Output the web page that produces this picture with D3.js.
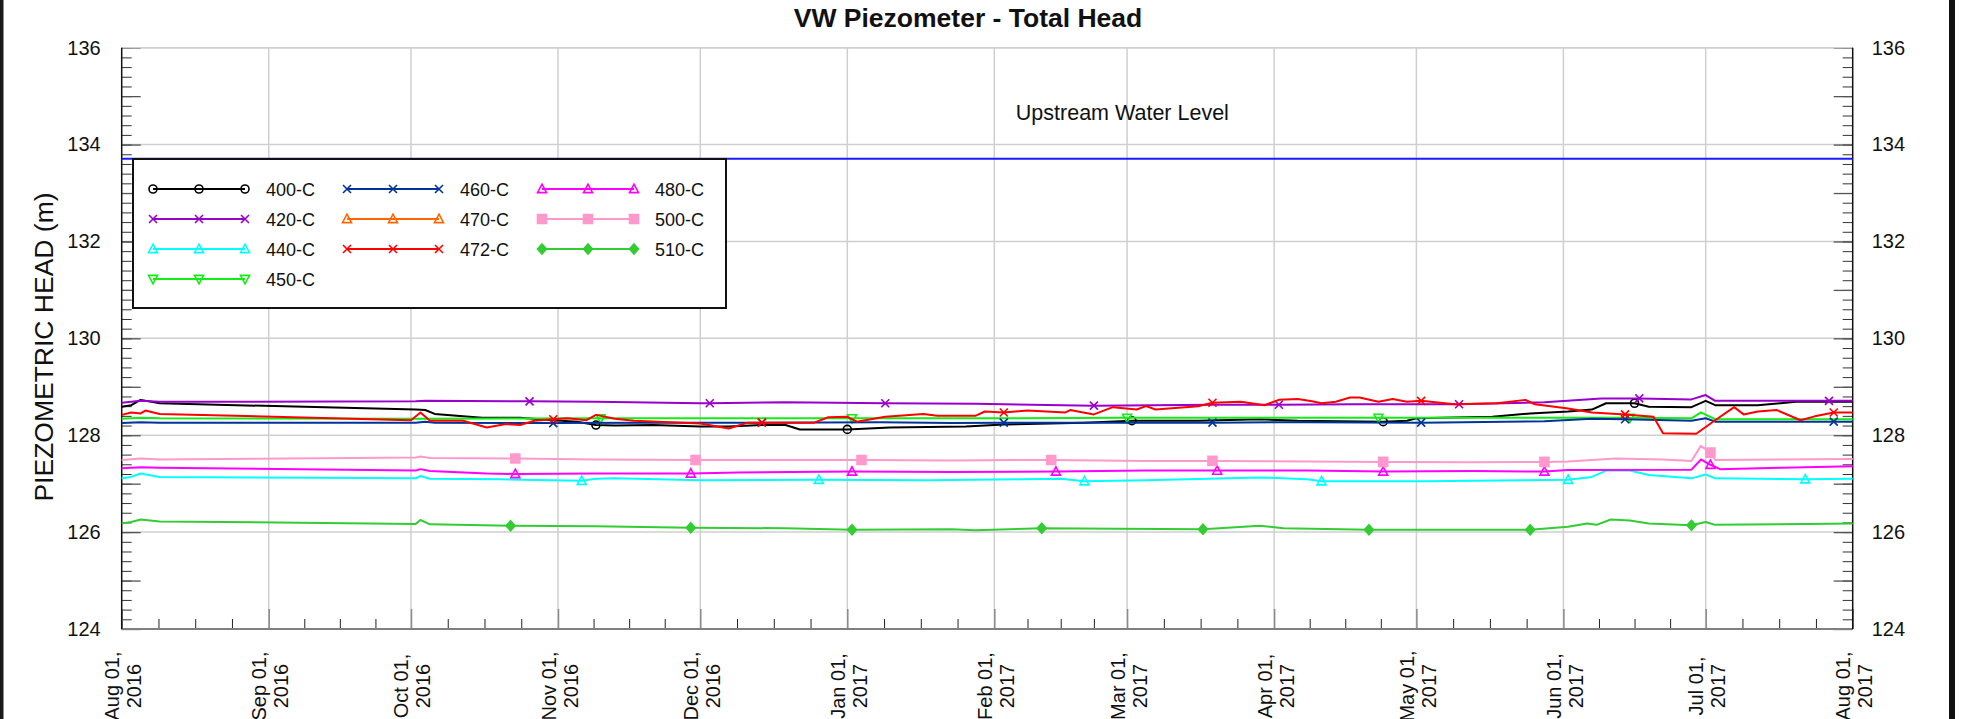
<!DOCTYPE html>
<html>
<head>
<meta charset="utf-8">
<title>VW Piezometer - Total Head</title>
<script src="https://cdn.jsdelivr.net/npm/d3@7/dist/d3.min.js"></script>
<style>
  html, body { margin: 0; padding: 0; background: #fff; }
  svg { display: block; font-family: "Liberation Sans", Arial, Helvetica, sans-serif; }
</style>
</head>
<body>
<svg id="chart" width="1964" height="719"></svg>
<script>
// ---------------- readings: [date, total head (m)] ----------------
const s400C = [
  ["2016-08-01",128.59],["2016-08-03",128.62],["2016-08-05",128.73],["2016-08-09",128.66],
  ["2016-10-02",128.53],["2016-10-04",128.52],["2016-10-06",128.44],["2016-10-16",128.36],
  ["2016-10-24",128.36],["2016-10-31",128.31],["2016-11-05",128.28],["2016-11-09",128.21],
  ["2016-11-13",128.20],["2016-11-21",128.21],["2016-12-01",128.18],["2016-12-07",128.18],
  ["2016-12-14",128.21],["2016-12-19",128.21],["2016-12-22",128.12],["2017-01-01",128.12],
  ["2017-01-10",128.16],["2017-01-26",128.18],["2017-02-03",128.22],["2017-02-20",128.26],
  ["2017-03-02",128.30],["2017-03-16",128.30],["2017-03-29",128.33],["2017-04-06",128.30],
  ["2017-04-24",128.28],["2017-04-29",128.30],["2017-05-01",128.35],["2017-05-17",128.38],
  ["2017-05-25",128.45],["2017-06-02",128.49],["2017-06-07",128.53],["2017-06-10",128.66],
  ["2017-06-16",128.66],["2017-06-19",128.59],["2017-06-28",128.58],["2017-07-01",128.71],
  ["2017-07-03",128.62],["2017-07-12",128.62],["2017-07-20",128.69],["2017-08-01",128.69]
];
const s420C = [
  ["2016-08-01",128.67],["2016-08-05",128.71],["2016-08-09",128.69],["2016-10-02",128.70],
  ["2016-10-04",128.71],["2016-10-26",128.70],["2016-11-09",128.69],["2016-12-01",128.66],
  ["2016-12-03",128.66],["2016-12-19",128.68],["2017-01-09",128.66],["2017-01-28",128.65],
  ["2017-02-22",128.61],["2017-03-19",128.63],["2017-04-02",128.63],["2017-04-18",128.64],
  ["2017-05-10",128.64],["2017-05-28",128.68],["2017-06-09",128.76],["2017-06-17",128.76],
  ["2017-06-28",128.74],["2017-07-01",128.83],["2017-07-03",128.71],["2017-07-27",128.71],
  ["2017-08-01",128.71]
];
const s440C = [
  ["2016-08-01",127.11],["2016-08-03",127.14],["2016-08-05",127.21],["2016-08-09",127.14],
  ["2016-10-02",127.11],["2016-10-03",127.16],["2016-10-05",127.10],["2016-10-20",127.09],
  ["2016-11-06",127.06],["2016-11-09",127.10],["2016-11-13",127.11],["2016-12-01",127.07],
  ["2016-12-26",127.08],["2017-01-18",127.07],["2017-02-07",127.09],["2017-02-15",127.10],
  ["2017-02-20",127.05],["2017-03-05",127.07],["2017-03-29",127.13],["2017-04-08",127.09],
  ["2017-04-11",127.05],["2017-05-03",127.05],["2017-05-23",127.07],["2017-06-02",127.08],
  ["2017-06-07",127.14],["2017-06-10",127.27],["2017-06-15",127.27],["2017-06-19",127.18],
  ["2017-06-28",127.11],["2017-07-01",127.19],["2017-07-03",127.11],["2017-07-22",127.09],
  ["2017-08-01",127.10]
];
const s450C = [
  ["2016-08-01",128.34],["2016-08-05",128.36],["2016-08-09",128.35],["2016-10-02",128.34],
  ["2016-11-10",128.35],["2016-12-04",128.35],["2017-01-02",128.35],["2017-02-02",128.35],
  ["2017-03-01",128.36],["2017-03-29",128.36],["2017-04-23",128.36],["2017-05-18",128.36],
  ["2017-06-15",128.36],["2017-06-28",128.35],["2017-06-30",128.47],["2017-07-03",128.33],
  ["2017-08-01",128.33]
];
const s460C = [
  ["2016-08-01",128.25],["2016-08-05",128.27],["2016-08-09",128.26],["2016-10-02",128.26],
  ["2016-10-04",128.28],["2016-10-06",128.26],["2016-10-31",128.25],["2016-11-19",128.26],
  ["2016-12-14",128.26],["2017-01-08",128.27],["2017-01-23",128.25],["2017-02-03",128.26],
  ["2017-02-27",128.26],["2017-03-19",128.26],["2017-04-08",128.27],["2017-05-02",128.26],
  ["2017-05-28",128.29],["2017-06-07",128.34],["2017-06-14",128.33],["2017-06-28",128.30],
  ["2017-07-01",128.35],["2017-07-03",128.28],["2017-07-28",128.28],["2017-08-01",128.28]
];
const s470C = [];
const s472C = [
  ["2016-08-01",128.42],["2016-08-03",128.47],["2016-08-05",128.45],["2016-08-06",128.51],
  ["2016-08-09",128.44],["2016-10-01",128.31],["2016-10-03",128.47],["2016-10-05",128.30],
  ["2016-10-12",128.30],["2016-10-17",128.16],["2016-10-21",128.23],["2016-10-24",128.21],
  ["2016-10-27",128.30],["2016-10-31",128.33],["2016-11-03",128.35],["2016-11-07",128.31],
  ["2016-11-09",128.42],["2016-11-13",128.34],["2016-11-17",128.30],["2016-12-01",128.24],
  ["2016-12-07",128.14],["2016-12-11",128.26],["2016-12-14",128.26],["2016-12-25",128.26],
  ["2016-12-28",128.37],["2017-01-01",128.38],["2017-01-03",128.28],["2017-01-09",128.38],
  ["2017-01-17",128.44],["2017-01-20",128.40],["2017-01-28",128.40],["2017-01-30",128.49],
  ["2017-02-03",128.47],["2017-02-08",128.51],["2017-02-16",128.47],["2017-02-17",128.52],
  ["2017-02-22",128.43],["2017-02-26",128.58],["2017-03-03",128.53],["2017-03-05",128.60],
  ["2017-03-07",128.53],["2017-03-16",128.60],["2017-03-19",128.67],["2017-03-25",128.69],
  ["2017-03-30",128.62],["2017-04-02",128.73],["2017-04-06",128.75],["2017-04-09",128.70],
  ["2017-04-11",128.66],["2017-04-14",128.69],["2017-04-17",128.78],["2017-04-19",128.78],
  ["2017-04-23",128.69],["2017-04-26",128.75],["2017-04-29",128.69],["2017-05-02",128.71],
  ["2017-05-09",128.64],["2017-05-18",128.66],["2017-05-24",128.73],["2017-05-26",128.64],
  ["2017-06-02",128.55],["2017-06-07",128.47],["2017-06-14",128.43],["2017-06-20",128.38],
  ["2017-06-22",128.04],["2017-06-29",128.03],["2017-07-03",128.31],["2017-07-07",128.58],
  ["2017-07-09",128.43],["2017-07-12",128.49],["2017-07-16",128.52],["2017-07-20",128.35],
  ["2017-07-21",128.31],["2017-07-24",128.39],["2017-07-28",128.47],["2017-08-01",128.47]
];
const s480C = [
  ["2016-08-01",127.32],["2016-08-05",127.34],["2016-08-09",127.33],["2016-10-02",127.27],
  ["2016-10-03",127.30],["2016-10-05",127.26],["2016-10-17",127.21],["2016-10-23",127.20],
  ["2016-11-09",127.21],["2016-11-29",127.21],["2016-12-09",127.23],["2017-01-02",127.25],
  ["2017-01-23",127.24],["2017-02-14",127.25],["2017-03-05",127.27],["2017-03-20",127.27],
  ["2017-04-08",127.27],["2017-04-24",127.25],["2017-05-13",127.26],["2017-05-28",127.25],
  ["2017-06-02",127.28],["2017-06-28",127.29],["2017-06-30",127.50],["2017-07-02",127.39],
  ["2017-07-04",127.30],["2017-07-17",127.33],["2017-08-01",127.36]
];
const s500C = [
  ["2016-08-01",127.49],["2016-08-05",127.52],["2016-08-09",127.50],["2016-10-02",127.54],
  ["2016-10-03",127.56],["2016-10-05",127.53],["2016-10-23",127.52],["2016-11-09",127.50],
  ["2016-11-30",127.49],["2016-12-19",127.49],["2017-01-04",127.49],["2017-01-23",127.48],
  ["2017-02-13",127.49],["2017-03-05",127.47],["2017-03-19",127.47],["2017-04-08",127.46],
  ["2017-04-24",127.45],["2017-05-13",127.44],["2017-05-28",127.45],["2017-06-02",127.46],
  ["2017-06-12",127.52],["2017-06-22",127.50],["2017-06-28",127.47],["2017-06-30",127.78],
  ["2017-07-02",127.64],["2017-07-03",127.49],["2017-08-01",127.51]
];
const s510C = [
  ["2016-08-01",126.18],["2016-08-03",126.21],["2016-08-05",126.26],["2016-08-09",126.22],
  ["2016-10-02",126.17],["2016-10-03",126.25],["2016-10-05",126.16],["2016-10-22",126.13],
  ["2016-11-09",126.12],["2016-11-29",126.09],["2016-12-19",126.08],["2017-01-02",126.05],
  ["2017-01-23",126.06],["2017-01-28",126.04],["2017-02-11",126.08],["2017-02-27",126.07],
  ["2017-03-17",126.06],["2017-03-29",126.13],["2017-04-03",126.08],["2017-04-21",126.05],
  ["2017-05-08",126.05],["2017-05-25",126.05],["2017-06-02",126.11],["2017-06-06",126.18],
  ["2017-06-08",126.15],["2017-06-11",126.26],["2017-06-15",126.24],["2017-06-19",126.18],
  ["2017-06-28",126.14],["2017-07-01",126.21],["2017-07-03",126.15],["2017-07-22",126.17],
  ["2017-08-01",126.18]
];

// dates on which each series shows its symbol
const m400C = ["2016-11-09","2017-01-01","2017-03-02","2017-04-24","2017-06-16"];
const m420C = ["2016-10-26","2016-12-03","2017-01-09","2017-02-22","2017-04-02","2017-05-10","2017-06-17","2017-07-27"];
const m440C = ["2016-11-06","2016-12-26","2017-02-20","2017-04-11","2017-06-02","2017-07-22"];
const m450C = ["2016-11-10","2017-01-02","2017-03-01","2017-04-23","2017-06-15"];
const m460C = ["2016-10-31","2016-12-14","2017-02-03","2017-03-19","2017-05-02","2017-06-14","2017-07-28"];
const m470C = [];
const m472C = ["2016-10-31","2016-12-14","2017-02-03","2017-03-19","2017-05-02","2017-06-14","2017-07-28"];
const m480C = ["2016-10-23","2016-11-29","2017-01-02","2017-02-14","2017-03-20","2017-04-24","2017-05-28","2017-07-02"];
const m500C = ["2016-10-23","2016-11-30","2017-01-04","2017-02-13","2017-03-19","2017-04-24","2017-05-28","2017-07-02"];
const m510C = ["2016-10-22","2016-11-29","2017-01-02","2017-02-11","2017-03-17","2017-04-21","2017-05-25","2017-06-28"];

const upstreamLevel = 133.71;
const dateRange = ["2016-08-01", "2017-08-01"];
const headRange = [124, 136];
const headLabels = [124, 126, 128, 130, 132, 134, 136];

const seriesNames  = ["400-C","420-C","440-C","450-C","460-C","470-C","472-C","480-C","500-C","510-C"];
const seriesColors = ["#000000","#9900cc","#00ffff","#11ee11","#003399","#ff6600","#ff0000","#ff00ff","#ff99cc","#33cc33"];
const seriesSymbols = ["circle","x","triUp","triDown","x","triUp","x","triUp","square","diamond"];
const seriesData  = [s400C, s420C, s440C, s450C, s460C, s470C, s472C, s480C, s500C, s510C];
const seriesMarks = [m400C, m420C, m440C, m450C, m460C, m470C, m472C, m480C, m500C, m510C];

// ---------------- layout ----------------
const W = 1964, H = 719;
const plot = { left: 121.7, right: 1852.7, top: 47.7, bottom: 629 };
const parse = d3.utcParse("%Y-%m-%d");

const svg = d3.select("#chart");
svg.append("rect").attr("width", W).attr("height", H).attr("fill", "#fff");

const x = d3.scaleUtc().domain(dateRange.map(parse)).range([plot.left, plot.right]);
const y = d3.scaleLinear().domain(headRange).range([plot.bottom, plot.top]);

const months = d3.utcMonth.range(x.domain()[0], d3.utcDay.offset(x.domain()[1], 1));
const quarterTicks = [];
months.slice(0, -1).forEach((m, i) => {
  const next = months[i + 1];
  for (let k = 1; k < 4; k++) quarterTicks.push(new Date(+m + (next - m) * k / 4));
});
const minorHead = d3.range(0, 61).map(i => headRange[0] + i * 0.2);
const unitHead = d3.range(headRange[0], headRange[1] + 1);

// grid
const grid = svg.append("g").attr("class", "grid");
grid.selectAll("line.h").data(headLabels.filter(v => v > headRange[0])).join("line")
  .attr("x1", plot.left).attr("x2", plot.right)
  .attr("y1", d => y(d)).attr("y2", d => y(d))
  .attr("stroke", "#cfcfcf").attr("stroke-width", 1.5);
grid.selectAll("line.v").data(months.slice(1, -1)).join("line")
  .attr("x1", d => x(d)).attr("x2", d => x(d))
  .attr("y1", plot.top).attr("y2", plot.bottom)
  .attr("stroke", "#cfcfcf").attr("stroke-width", 1.5);

// axes
function styleTicks(g, color, width) {
  g.selectAll(".tick line").attr("stroke", color).attr("stroke-width", width);
  g.select(".domain").remove();
}
const fontFamily = '"Liberation Sans", Arial, Helvetica, sans-serif';

// left
const leftG = svg.append("g").attr("transform", `translate(${plot.left},0)`);
leftG.append("g").call(d3.axisLeft(y).tickValues(minorHead).tickSize(-10).tickFormat(""))
  .call(g => styleTicks(g, "#333", 1));
leftG.append("g").call(d3.axisLeft(y).tickValues(unitHead).tickSize(-19).tickFormat(""))
  .call(g => styleTicks(g, "#555", 1.3));
leftG.append("g").call(d3.axisLeft(y).tickValues(headLabels).tickSize(0).tickPadding(21).tickFormat(d3.format("d")))
  .call(g => { g.select(".domain").remove(); g.selectAll("text").attr("font-size", 20).attr("font-family", fontFamily).attr("fill", "#111"); });

// right
const rightG = svg.append("g").attr("transform", `translate(${plot.right},0)`);
rightG.append("g").call(d3.axisRight(y).tickValues(minorHead).tickSize(-10).tickFormat(""))
  .call(g => styleTicks(g, "#333", 1));
rightG.append("g").call(d3.axisRight(y).tickValues(unitHead).tickSize(-19).tickFormat(""))
  .call(g => styleTicks(g, "#555", 1.3));
rightG.append("g").call(d3.axisRight(y).tickValues(headLabels).tickSize(0).tickPadding(19).tickFormat(d3.format("d")))
  .call(g => { g.select(".domain").remove(); g.selectAll("text").attr("font-size", 20).attr("font-family", fontFamily).attr("fill", "#111"); });

// bottom
const bottomG = svg.append("g").attr("transform", `translate(0,${plot.bottom})`);
bottomG.append("g").call(d3.axisBottom(x).tickValues(quarterTicks).tickSize(-10).tickFormat(""))
  .call(g => styleTicks(g, "#222", 1));
bottomG.append("g").call(d3.axisBottom(x).tickValues(months).tickSize(-20).tickFormat(""))
  .call(g => styleTicks(g, "#8a8a8a", 1.5));
const fmtDay = d3.utcFormat("%b %d,"), fmtYear = d3.utcFormat("%Y");
bottomG.append("g").call(d3.axisBottom(x).tickValues(months).tickSize(0).tickFormat(""))
  .call(g => {
    g.select(".domain").remove();
    g.selectAll(".tick text").remove();
    g.selectAll(".tick").append("text")
      .attr("transform", "translate(0,57) rotate(-90)")
      .attr("text-anchor", "middle")
      .attr("font-size", 20).attr("font-family", fontFamily).attr("fill", "#111")
      .each(function(d) {
        const t = d3.select(this);
        t.append("tspan").attr("x", 0).attr("y", -3).text(fmtDay(d));
        t.append("tspan").attr("x", 0).attr("y", 19).text(fmtYear(d));
      });
  });

// frame lines
svg.append("line").attr("x1", plot.left).attr("x2", plot.right).attr("y1", plot.top).attr("y2", plot.top)
  .attr("stroke", "#cfcfcf").attr("stroke-width", 1.5);
svg.append("line").attr("x1", plot.left).attr("x2", plot.right).attr("y1", plot.bottom).attr("y2", plot.bottom)
  .attr("stroke", "#808080").attr("stroke-width", 2);
[plot.left, plot.right].forEach(px => svg.append("line")
  .attr("x1", px).attr("x2", px).attr("y1", plot.top).attr("y2", plot.bottom)
  .attr("stroke", "#111").attr("stroke-width", 1.5));

// upstream water level
svg.append("line")
  .attr("x1", x(x.domain()[0])).attr("x2", x(x.domain()[1]))
  .attr("y1", y(upstreamLevel)).attr("y2", y(upstreamLevel))
  .attr("stroke", "#1a1aff").attr("stroke-width", 2);
svg.append("text").attr("x", x(parse("2017-02-28"))).attr("y", 120)
  .attr("text-anchor", "middle").attr("font-size", 21.5).attr("font-family", fontFamily).attr("fill", "#111")
  .text("Upstream Water Level");

// symbols
function symbolPath(kind) {
  switch (kind) {
    case "circle":  return "M-4,0a4,4 0 1,0 8,0a4,4 0 1,0 -8,0Z";
    case "x":       return "M-4,-4L4,4M-4,4L4,-4";
    case "triUp":   return "M0,-4.8L4.5,3.6L-4.5,3.6Z";
    case "triDown": return "M0,4.8L4.5,-3.6L-4.5,-3.6Z";
    case "square":  return "M-4.5,-4.5h9v9h-9Z";
    case "diamond": return "M0,-5L4.5,0L0,5L-4.5,0Z";
  }
}
const filled = kind => kind === "square" || kind === "diamond";

const series = seriesNames.map((name, i) => ({
  name, color: seriesColors[i], symbol: seriesSymbols[i],
  points: seriesData[i].map(([d, v]) => ({ date: parse(d), key: d, value: v })),
  marks: seriesMarks[i]
}));

const line = d3.line().x(d => x(d.date)).y(d => y(d.value));
const plotG = svg.append("g");
series.forEach(s => {
  if (!s.points.length) return;
  plotG.append("path").datum(s.points)
    .attr("fill", "none").attr("stroke", s.color).attr("stroke-width", 2)
    .attr("stroke-linejoin", "round").attr("d", line);
  const mk = s.points.filter(p => s.marks.includes(p.key));
  plotG.selectAll(null).data(mk).join("path")
    .attr("transform", p => `translate(${x(p.date)},${y(p.value)})`)
    .attr("d", symbolPath(s.symbol))
    .attr("fill", filled(s.symbol) ? s.color : "none")
    .attr("stroke", s.color).attr("stroke-width", 1.6);
});

// legend
const legend = svg.append("g");
legend.append("rect").attr("x", 133).attr("y", 159).attr("width", 593).attr("height", 149)
  .attr("fill", "#fff").attr("stroke", "#111").attr("stroke-width", 2);
const legendCols = [["400-C","420-C","440-C","450-C"], ["460-C","470-C","472-C"], ["480-C","500-C","510-C"]];
const colX = [153, 347, 542];
const rowY = [189, 219, 249, 279];
legendCols.forEach((col, ci) => col.forEach((name, ri) => {
  const s = series.find(t => t.name === name);
  const x0 = colX[ci], yy = rowY[ri];
  const g = legend.append("g");
  g.append("line").attr("x1", x0).attr("x2", x0 + 92).attr("y1", yy).attr("y2", yy)
    .attr("stroke", s.color).attr("stroke-width", 2);
  [0, 46, 92].forEach(dx => g.append("path")
    .attr("transform", `translate(${x0 + dx},${yy})`)
    .attr("d", symbolPath(s.symbol))
    .attr("fill", filled(s.symbol) ? s.color : "none")
    .attr("stroke", s.color).attr("stroke-width", 1.6));
  g.append("text").attr("x", x0 + 113).attr("y", yy + 6.5)
    .attr("font-size", 18).attr("font-family", fontFamily).attr("fill", "#111").text(name);
}));

// titles
svg.append("text").attr("x", 968).attr("y", 27).attr("text-anchor", "middle")
  .attr("font-size", 26.5).attr("font-weight", "bold").attr("font-family", fontFamily).attr("fill", "#111")
  .text("VW Piezometer - Total Head");
svg.append("text").attr("transform", "translate(53,347) rotate(-90)").attr("text-anchor", "middle")
  .attr("font-size", 26.5).attr("font-family", fontFamily).attr("fill", "#111")
  .text("PIEZOMETRIC HEAD (m)");

// page edges
svg.append("rect").attr("x", 0).attr("y", 0).attr("width", 3.5).attr("height", H).attr("fill", "#1a1a1a");
svg.append("rect").attr("x", 1949).attr("y", 0).attr("width", 6).attr("height", H).attr("fill", "#111");
</script>
</body>
</html>
